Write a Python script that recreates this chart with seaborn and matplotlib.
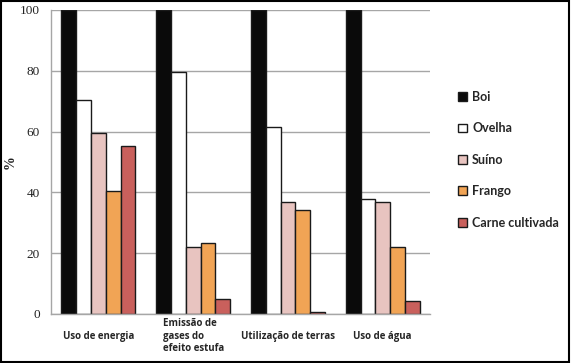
import matplotlib
matplotlib.use("Agg")
import matplotlib.pyplot as plt
import matplotlib.patches as mpatches
import pandas as pd
import seaborn as sns

categories = ["Uso de energia", "Emissão de\ngases do\nefeito estufa", "Utilização de terras", "Uso de água"]
animals = ["Boi", "Ovelha", "Suíno", "Frango", "Carne cultivada"]
boi = [100, 100, 100, 100]
ovelha = [70.5, 79.5, 61.5, 37.8]
suino = [59.5, 22.0, 37.0, 37.0]
frango = [40.5, 23.3, 34.2, 22.2]
carne = [55.2, 5.0, 0.6, 4.2]
colors = ["#0a0a0a", "#ffffff", "#e8c4c0", "#f1a455", "#c9605c"]

rows = []
for name, vals in zip(animals, [boi, ovelha, suino, frango, carne]):
    for cat, v in zip(categories, vals):
        rows.append({"cat": cat, "animal": name, "valor": v})
df = pd.DataFrame(rows)

sns.set_style("white")
fig = plt.figure(figsize=(5.71, 3.63), dpi=100)
ax = fig.add_axes([0.0893, 0.135, 0.664, 0.8375])

sns.barplot(data=df, x="cat", y="valor", hue="animal", order=categories, hue_order=animals,
            palette=colors, saturation=1, width=0.78, edgecolor="#1a1a1a", linewidth=1.0,
            ax=ax, legend=False)

ax.set_ylim(0, 100)
ax.set_xlim(-0.5, len(categories) - 0.5)
ax.set_yticks([0, 20, 40, 60, 80, 100])
ax.yaxis.grid(True, color="#a6a6a6", linewidth=1.0)
ax.set_axisbelow(True)
for s in ["top", "right"]:
    ax.spines[s].set_visible(False)
for s in ["left", "bottom"]:
    ax.spines[s].set_color("#a6a6a6")
    ax.spines[s].set_linewidth(1.0)

ax.tick_params(axis="y", length=0, pad=8, labelsize=9.5, labelcolor="#222222")
for t in ax.get_yticklabels():
    t.set_family("Liberation Serif")

ax.set_xticks(range(len(categories)))
ax.set_xticklabels(categories, fontsize=7, family="Open Sans", fontweight="bold")
ax.tick_params(axis="x", which="major", length=0, pad=16)
for t in ax.get_xticklabels():
    t.set_va("center")
    t.set_multialignment("left")
ax.set_xticks([i - 0.5 for i in range(len(categories) + 1)], minor=True)
ax.tick_params(axis="x", which="minor", length=4, color="#a6a6a6", direction="out")

ax.set_xlabel("")
ax.set_ylabel("%", fontsize=10, fontweight="bold", family="Liberation Serif", color="#222222")
ax.yaxis.set_label_coords(-0.09, 0.5)

handles = [mpatches.Patch(facecolor=c, edgecolor="#1a1a1a", linewidth=1.0, label=a)
           for a, c in zip(animals, colors)]
fig.legend(handles=handles, loc="upper left", bbox_to_anchor=(0.783, 0.78), frameon=False,
           handlelength=0.7, handleheight=0.7, handletextpad=0.4, labelspacing=1.55,
           prop={"family": "Lato", "weight": "bold", "size": 9})

fig.patches.append(mpatches.Rectangle((0.002, 0.003), 0.995, 0.994, transform=fig.transFigure,
                                      fill=False, edgecolor="black", linewidth=1.5))

fig.savefig("out.png", dpi=100)
